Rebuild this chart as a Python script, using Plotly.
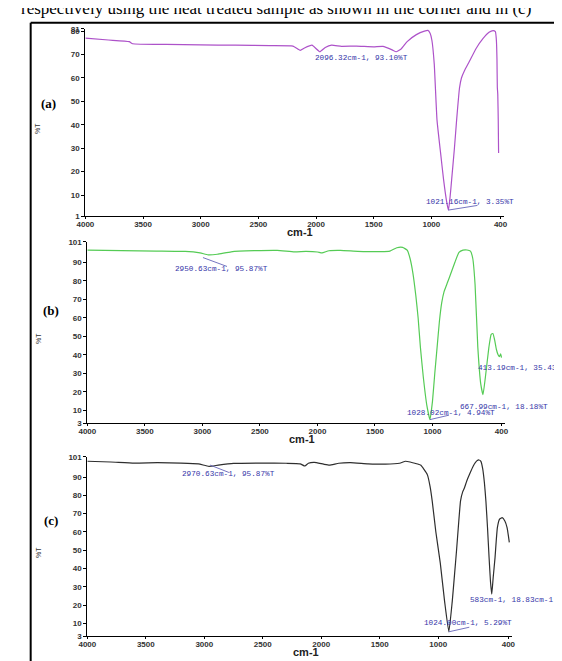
import plotly.graph_objects as go

# ---------------- data ----------------
wn_a = [4000, 3800, 3620, 3590, 3300, 3000, 2700, 2400, 2200, 2137, 2100, 2035, 1967, 1920,
        1865, 1780, 1650, 1500, 1420, 1340, 1306, 1260, 1210, 1130, 1060, 1030, 1010, 995,
        975, 951, 920, 894, 870, 852, 838, 824, 800, 781, 756, 739, 714, 671, 612, 553,
        500, 465, 445, 436, 431, 428, 424, 420, 417]
t_a = [77.0, 76.2, 75.5, 74.6, 74.3, 74.1, 74.0, 73.8, 73.6, 71.8, 72.8, 74.0, 71.2, 73.0,
       74.0, 73.5, 73.6, 73.3, 73.5, 72.0, 71.2, 72.5, 75.5, 78.5, 80.0, 80.3, 79.0, 76.0,
       66.0, 42.0, 28.0, 16.6, 8.0, 3.6, 9.0, 16.6, 30.0, 42.0, 55.7, 60.0, 63.0, 67.0, 72.6, 76.8,
       79.5, 80.2, 79.8, 76.0, 68.0, 56.0, 53.0, 42.0, 28.0]

wn_b = [4000, 3700, 3400, 3150, 3020, 2950, 2870, 2750, 2550, 2350, 2200, 2100, 2000, 1960,
        1900, 1800, 1650, 1450, 1370, 1310, 1260, 1220, 1195, 1170, 1145, 1125, 1105, 1080,
        1050, 1022, 1000, 980, 960, 940, 920, 900, 870, 840, 805, 770, 735, 700, 670, 650,
        630, 606, 580, 561, 540, 510, 490, 475, 460, 445, 430, 418, 408, 400]
t_b = [96.5, 96.2, 96.0, 95.8, 95.0, 94.0, 94.3, 95.6, 96.2, 96.4, 95.6, 95.8, 95.5, 95.0,
       96.2, 96.4, 95.9, 95.7, 96.0, 97.8, 98.0, 96.5, 92.0, 84.0, 72.0, 60.0, 44.0, 28.0,
       13.0, 5.0, 15.0, 30.0, 44.0, 58.0, 68.0, 74.0, 79.0, 84.0, 90.0, 95.3, 96.5, 96.6, 96.0, 92.0,
       78.0, 44.0, 24.0, 18.5, 28.0, 44.0, 51.0, 51.5, 48.0, 43.0, 40.0, 39.0, 40.5, 38.5]

wn_c = [4000, 3800, 3600, 3400, 3200, 3050, 2960, 2880, 2750, 2500, 2300, 2180, 2140, 2110,
        2060, 1980, 1930, 1850, 1750, 1600, 1450, 1330, 1280, 1240, 1200, 1150, 1120, 1093,
        1070, 1051, 1020, 982, 945, 909, 880, 860, 843, 825, 809, 790, 776, 755, 732, 700,
        670, 650, 635, 620, 605, 592, 578, 565, 553, 542, 530, 514, 504, 494, 475, 453,
        430, 411, 400, 392]
t_c = [98.6, 98.2, 97.6, 97.8, 97.6, 97.2, 95.8, 96.5, 97.4, 97.6, 97.5, 97.2, 96.0, 97.5,
       98.0, 97.0, 96.5, 97.5, 97.8, 97.2, 97.0, 97.5, 98.6, 98.2, 97.5, 96.5, 94.0, 91.3,
       85.0, 76.8, 60.0, 43.0, 22.0, 5.5, 22.0, 37.0, 50.0, 65.0, 77.0, 82.0, 84.0, 88.0, 91.5, 96.0,
       98.8, 99.3, 98.5, 94.7, 87.0, 76.8, 62.0, 46.2, 33.0, 26.0, 35.0, 46.0, 55.0, 62.4, 67.0, 67.8,
       66.0, 62.4, 58.0, 54.3]

x_tickvals = [4000, 3500, 3000, 2500, 2000, 1500, 1000, 400]
y_ticks_a = [1, 10, 20, 30, 40, 50, 60, 70, 80, 81]
y_ticks_bc = [3, 10, 20, 30, 40, 50, 60, 70, 80, 90, 101]

# peak labels: text, label x, label y
labels_a = [("2096.32cm-1, 93.10%T", 2025, 68.4), ("1021.16cm-1, 3.35%T", 1068, 6.9)]
labels_b = [("2950.63cm-1, 95.87%T", 3253, 86.1), ("413.19cm-1, 35.43%T", 621, 32.8),
            ("667.99cm-1, 18.18%T", 774, 11.6), ("1028.02cm-1, 4.94%T", 1241, 8.6)]
labels_c = [("2970.63cm-1, 95.87%T", 3206, 91.5), ("583cm-1, 18.83cm-1", 742, 22.9),
            ("1024.00cm-1, 5.29%T", 1135, 10.5)]
# leader lines: (x0, y0, x1, y1)
leaders_a = [(852, 3.6, 600, 5.6)]
leaders_b = [(2995, 92.5, 2786, 87.7), (1022, 5.0, 857, 7.4)]
leaders_c = [(2950, 96.5, 2790, 92.5), (909, 5.5, 734, 8.0)]

caption = "respectively using the heat treated sample as shown in the corner and in (c)"

# ---------------- layout geometry (pixels) ----------------
W, H = 562, 661
XEND = 370
panels = [
    dict(x0=70, x400=495, ytop=17, ybot=207, yr=[1, 81], yt=y_ticks_a,
         wn=wn_a, t=t_a, color="#ad52c9", labels=labels_a, leaders=leaders_a,
         tag="(a)", tagxy=(32, 93), pt=(21, 118), cmx=290),
    dict(x0=72, x400=496, ytop=233, ybot=417, yr=[3, 101], yt=y_ticks_bc,
         wn=wn_b, t=t_b, color="#55cb55", labels=labels_b, leaders=leaders_b,
         tag="(b)", tagxy=(35, 303), pt=(22, 331), cmx=292),
    dict(x0=72, x400=503, ytop=451, ybot=633, yr=[3, 101], yt=y_ticks_bc,
         wn=wn_c, t=t_c, color="#2e2e2e", labels=labels_c, leaders=leaders_c,
         tag="(c)", tagxy=(35, 516), pt=(22, 548), cmx=296),
]
CM_OFFSET = 16

fig = go.Figure()
annotations = []
shapes = []
tickfont = dict(family="Liberation Sans, Arial", size=8, color="#333333", weight="bold")
lblfont = dict(family="Liberation Mono, DejaVu Sans Mono, monospace", size=7.7, color="#3535a8")

for i, p in enumerate(panels, start=1):
    k = (p["x400"] - p["x0"]) / (4000 - 400)
    x1px = p["x0"] + (4000 - XEND) * k
    xa = "xaxis" if i == 1 else f"xaxis{i}"
    ya = "yaxis" if i == 1 else f"yaxis{i}"
    xr = "x" if i == 1 else f"x{i}"
    yr = "y" if i == 1 else f"y{i}"
    fig.add_trace(go.Scatter(x=p["wn"], y=p["t"], mode="lines", xaxis=xr, yaxis=yr,
                             line=dict(color=p["color"], width=1.2, shape="spline", smoothing=0.4),
                             showlegend=False, hoverinfo="skip"))
    fig.layout[xa] = dict(domain=[p["x0"] / W, x1px / W], range=[4000, XEND],
                          anchor=yr, tickvals=x_tickvals, ticktext=[str(v) for v in x_tickvals],
                          showline=True, linecolor="black", linewidth=1, ticks="outside",
                          ticklen=2, tickcolor="black", showgrid=False, zeroline=False,
                          tickfont=tickfont, fixedrange=True, ticklabelstandoff=-2)
    fig.layout[ya] = dict(domain=[1 - p["ybot"] / H, 1 - p["ytop"] / H], range=p["yr"],
                          anchor=xr, tickvals=p["yt"], ticktext=[str(v) for v in p["yt"]],
                          showline=True, linecolor="black", linewidth=1, ticks="outside",
                          ticklen=3, tickcolor="black", showgrid=False, zeroline=False,
                          tickfont=tickfont, fixedrange=True)
    for (txt, lx, ly) in p["labels"]:
        annotations.append(dict(text=txt, x=lx, y=ly, xref=xr, yref=yr, xanchor="left",
                                yanchor="middle", showarrow=False, font=lblfont))
    for (a, b, c, d) in p["leaders"]:
        shapes.append(dict(type="line", x0=a, y0=b, x1=c, y1=d, xref=xr, yref=yr,
                           line=dict(color="#5050b0", width=0.8)))
    annotations.append(dict(text="<b>" + p["tag"] + "</b>", x=p["tagxy"][0] / W,
                            y=1 - p["tagxy"][1] / H, xref="paper", yref="paper",
                            showarrow=False, xanchor="center", yanchor="middle",
                            font=dict(family="Liberation Serif, Times New Roman", size=13,
                                      color="black")))
    annotations.append(dict(text="%T", x=p["pt"][0] / W, y=1 - p["pt"][1] / H, xref="paper",
                            yref="paper", showarrow=False, textangle=-90,
                            xanchor="center", yanchor="middle",
                            font=dict(family="Liberation Sans, Arial", size=7, color="#333333")))
    annotations.append(dict(text="cm-1", x=p["cmx"] / W, y=1 - (p["ybot"] + CM_OFFSET) / H,
                            xref="paper", yref="paper", showarrow=False,
                            xanchor="center", yanchor="middle",
                            font=dict(family="Liberation Sans, Arial", size=11,
                                      color="#222222", weight="bold")))

# caption line cut at the top of the picture
annotations.append(dict(text=caption, x=2 / W, y=1 - 8 / H, xref="paper", yref="paper",
                        showarrow=False, xanchor="left", yanchor="bottom",
                        font=dict(family="Liberation Serif, Times New Roman", size=17,
                                  color="black")))
# frame of the figure box
shapes.append(dict(type="line", x0=14 / W, x1=1.0, y0=1 - 11 / H, y1=1 - 11 / H,
                   xref="paper", yref="paper", line=dict(color="black", width=2)))
shapes.append(dict(type="line", x0=14 / W, x1=14 / W, y0=0, y1=1 - 11 / H,
                   xref="paper", yref="paper", line=dict(color="black", width=2)))

fig.update_layout(width=W, height=H, margin=dict(l=0, r=0, t=0, b=0),
                  paper_bgcolor="white", plot_bgcolor="white",
                  annotations=annotations, shapes=shapes, showlegend=False)

fig.write_html("out.html", config={"displayModeBar": False})
